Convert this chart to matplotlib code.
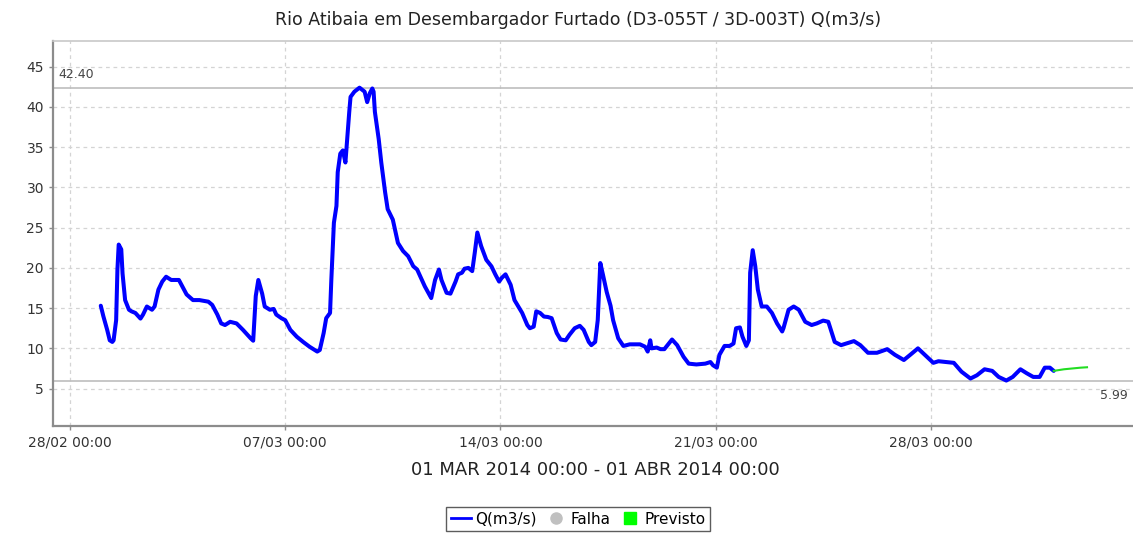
import matplotlib
matplotlib.use("Agg")
import matplotlib.pyplot as plt
import matplotlib.dates as mdates
from matplotlib.lines import Line2D
import pandas as pd

# ---------------- data ----------------
start = "2014-03-01 00:00"
title = "Rio Atibaia em Desembargador Furtado (D3-055T / 3D-003T) Q(m3/s)"
period_label = "01 MAR 2014 00:00 - 01 ABR 2014 00:00"

# observed discharge: hours since start, Q (m3/s)
obs_hours = [0, 2, 5, 7, 9, 10, 12, 13, 14, 16, 17, 19, 22, 24, 27, 31, 33, 36, 40, 42,
             45, 48, 51, 55, 61, 63, 67, 72, 77, 84, 87, 91, 94, 97, 101, 106, 111, 117, 119, 121,
             123, 126, 128, 132, 135, 137, 141, 144, 148, 153, 158, 163, 169, 171, 174, 176, 179, 180, 182, 184,
             185, 187, 189, 191, 192, 194, 195, 198, 202, 206, 208, 210, 212, 213, 214, 217, 219, 222, 224, 228,
             232, 236, 240, 244, 247, 253, 258, 261, 264, 266, 270, 273, 277, 279, 282, 284, 287, 290, 292, 294,
             297, 301, 305, 308, 311, 313, 316, 320, 323, 329, 333, 335, 338, 340, 343, 346, 349, 352, 356, 359,
             363, 366, 370, 374, 377, 381, 383, 386, 388, 390, 392, 395, 398, 400, 404, 408, 413, 421, 425, 427,
             429, 430, 434, 437, 440, 446, 450, 455, 459, 465, 472, 476, 478, 481, 483, 487, 491, 494, 496, 499,
             501, 504, 506, 507, 509, 511, 513, 516, 520, 524, 528, 532, 533, 537, 541, 545, 550, 555, 559, 564,
             568, 573, 578, 582, 588, 593, 599, 606, 614, 620, 627, 632, 638, 645, 650, 654, 660, 666, 672, 679,
             684, 690, 696, 701, 707, 712, 718, 723, 728, 733, 737, 741, 744]
obs_q = [15.3, 14.0, 12.3, 11.0, 10.8, 11.0, 13.5, 19.8, 22.9, 22.3, 19.3, 16.0, 14.8, 14.6, 14.4, 13.7, 14.2, 15.2, 14.8, 15.2,
         17.3, 18.3, 18.9, 18.5, 18.5, 17.9, 16.7, 16.0, 16.0, 15.8, 15.4, 14.2, 13.1, 12.9, 13.3, 13.1, 12.3, 11.25, 10.95, 16.5,
         18.5, 16.8, 15.2, 14.8, 14.9, 14.2, 13.75, 13.5, 12.3, 11.45, 10.8, 10.2, 9.6, 9.8, 11.9, 13.75, 14.4, 18.5, 25.6, 27.7,
         31.9, 34.2, 34.6, 33.1, 35.2, 39.4, 41.25, 41.9, 42.4, 41.9, 40.6, 41.7, 42.3, 41.9, 39.4, 36.0, 33.1, 29.4, 27.3, 26.0,
         23.1, 22.1, 21.45, 20.2, 19.8, 17.7, 16.25, 18.5, 19.8, 18.5, 16.9, 16.8, 18.3, 19.2, 19.4, 19.9, 20.0, 19.6, 21.9, 24.4,
         22.7, 21.0, 20.2, 19.2, 18.3, 18.75, 19.2, 17.9, 16.0, 14.4, 12.9, 12.5, 12.7, 14.6, 14.4, 13.95, 13.9, 13.75, 11.9, 11.1,
         11.0, 11.7, 12.5, 12.8, 12.3, 10.8, 10.4, 10.8, 13.5, 20.6, 19.2, 17.0, 15.3, 13.5, 11.25, 10.3, 10.5, 10.5, 10.2, 9.6,
         11.0, 10.0, 10.1, 9.9, 9.9, 11.1, 10.4, 8.95, 8.1, 8.0, 8.1, 8.3, 7.9, 7.6, 9.2, 10.3, 10.3, 10.6, 12.5, 12.6,
         11.45, 10.3, 11.0, 19.4, 22.2, 20.2, 17.3, 15.2, 15.2, 14.4, 13.1, 12.1, 12.5, 14.8, 15.2, 14.8, 13.3, 12.9, 13.1, 13.45,
         13.3, 10.8, 10.4, 10.6, 10.9, 10.4, 9.45, 9.45, 9.9, 9.2, 8.55, 9.2, 10.0, 8.95, 8.2, 8.4, 8.3, 8.2, 7.1, 6.25,
         6.65, 7.4, 7.2, 6.45, 6.0, 6.45, 7.4, 6.9, 6.45, 6.45, 7.6, 7.6, 7.2]

# forecast (Previsto)
fc_hours = [744, 752, 765, 770]
fc_q = [7.2, 7.4, 7.6, 7.65]

max_q = 42.40
min_q = 5.99

y_ticks = [5, 10, 15, 20, 25, 30, 35, 40, 45]
x_tick_dates = ["2014-02-28", "2014-03-07", "2014-03-14", "2014-03-21", "2014-03-28"]
legend_labels = ["Q(m3/s)", "Falha", "Previsto"]

# ---------------- plot ----------------
t0 = pd.Timestamp(start)
obs_t = [t0 + pd.Timedelta(hours=h) for h in obs_hours]
fc_t = [t0 + pd.Timedelta(hours=h) for h in fc_hours]

fig = plt.figure(figsize=(11.33, 5.35), dpi=100)
ax = fig.add_axes([53 / 1133, 1 - 426 / 535, 1 - 53 / 1133, (426 - 41) / 535])

grid_kw = dict(color="#d4d4d4", linestyle=(0, (3, 3)), linewidth=0.9)
ax.grid(True, **grid_kw)
ax.set_axisbelow(True)

ax.axhline(max_q, color="#bdbdbd", linewidth=1.2, zorder=1.5)
ax.axhline(min_q, color="#bdbdbd", linewidth=1.2, zorder=1.5)

ax.plot(obs_t, obs_q, color="#0000ff", linewidth=2.9, solid_joinstyle="round",
        solid_capstyle="round", zorder=3)
ax.plot(fc_t, fc_q, color="#22dd22", linewidth=1.5, zorder=3)

ax.set_xlim(t0 + pd.Timedelta(hours=-37.3), t0 + pd.Timedelta(hours=805.9))
ax.set_ylim(0.35, 48.2)
ax.set_yticks(y_ticks)
ax.set_xticks([pd.Timestamp(d) for d in x_tick_dates])
ax.xaxis.set_major_formatter(mdates.DateFormatter("%d/%m %H:%M"))

for s in ["left", "bottom"]:
    ax.spines[s].set_color("#8c8c8c")
    ax.spines[s].set_linewidth(1.6)
ax.spines["top"].set_color("#c8c8c8")
ax.spines["top"].set_linewidth(1.2)
ax.spines["right"].set_visible(False)

ax.tick_params(axis="both", colors="#8c8c8c", length=3, width=1, labelcolor="#333333",
               labelsize=10)
ax.tick_params(axis="x", pad=4)

# reference value labels
ax.annotate(f"{max_q:.2f}", xy=(0, max_q), xycoords=("axes fraction", "data"),
            xytext=(4, 5), textcoords="offset points", fontsize=9, color="#444444",
            ha="left", va="bottom")
ax.annotate(f"{min_q:.2f}", xy=(1, min_q), xycoords=("axes fraction", "data"),
            xytext=(-4, -6), textcoords="offset points", fontsize=9, color="#444444",
            ha="right", va="top")

fig.text(578 / 1133, 1 - 20 / 535, title, ha="center", va="center", fontsize=12.5, color="#222222")
fig.text(595 / 1133, 1 - 470 / 535, period_label, ha="center", va="center", fontsize=13,
         color="#222222")

handles = [
    Line2D([0], [0], color="#0000ff", linewidth=2),
    Line2D([0], [0], marker="o", color="none", markerfacecolor="#c0c0c0",
           markeredgecolor="#c0c0c0", markersize=8),
    Line2D([0], [0], marker="s", color="none", markerfacecolor="#00ff00",
           markeredgecolor="#00ff00", markersize=8),
]
leg = fig.legend(handles, legend_labels, loc="center", bbox_to_anchor=(578 / 1133, 1 - 519 / 535),
                 ncol=3, frameon=True, fancybox=False, fontsize=11, handlelength=1.3,
                 handletextpad=0.3, columnspacing=0.6, borderpad=0.3, borderaxespad=0)
leg.get_frame().set_edgecolor("#333333")
leg.get_frame().set_linewidth(1.0)

fig.savefig("out.png", dpi=100)
